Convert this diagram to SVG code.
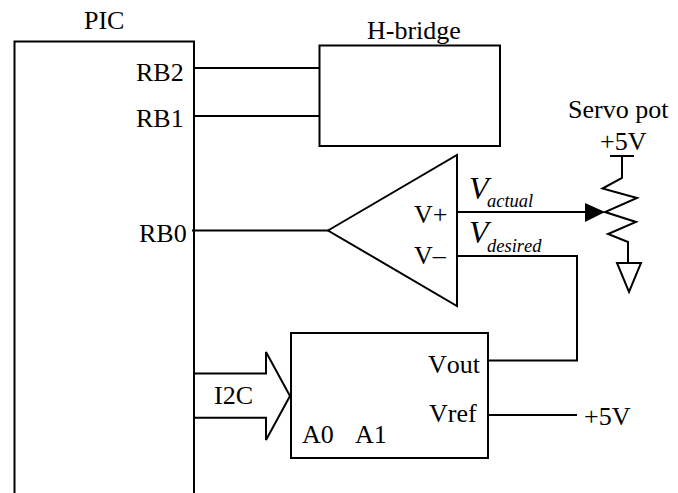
<svg xmlns="http://www.w3.org/2000/svg" width="678" height="493" viewBox="0 0 678 493">
<style>
.l{fill:none;stroke:#000;stroke-width:2}
text{font-family:"Liberation Serif","Times New Roman",serif;font-size:26px;fill:#000;font-kerning:none}
.v{font-size:32px;font-style:italic}
.s{font-size:18.500px;font-style:italic}
</style>
<rect width="678" height="493" fill="#fff"/>
<g id="connectors">
<path class="l" d="M194 68H319.500M194 116H319.500M192 230.500H328M457 212H590M457 256H577V360.500H488M488 415H577"/>
<polygon points="585,203 605,212 585,222" fill="#000"/>
</g>
<g id="pic">
<path class="l" d="M14.500 493V41.500H194V493"/>
<text x="84" y="29">PIC</text>
<text x="136" y="81">RB2</text>
<text x="136" y="127">RB1</text>
<text x="139" y="242">RB0</text>
</g>
<g id="h-bridge">
<rect class="l" x="319.500" y="45.500" width="180.500" height="100.500"/>
<text x="367" y="39">H-bridge</text>
</g>
<g id="comparator">
<polygon class="l" points="328,230.500 457,155 457,306"/>
<text x="414" y="223">V+</text>
<text x="414" y="264">V–</text>
<text class="v" x="469" y="199">V</text>
<text class="s" x="487" y="207">actual</text>
<text class="v" x="469" y="243">V</text>
<text class="s" x="487" y="252">desired</text>
</g>
<g id="dac">
<rect class="l" x="291" y="333" width="197" height="125"/>
<text x="428" y="373">Vout</text>
<text x="429" y="422">Vref</text>
<text x="302" y="443">A0</text>
<text x="355" y="443">A1</text>
</g>
<g id="i2c">
<path class="l" d="M194 373.500H266V352L290 396L266 440V417.700H194"/>
<text x="214" y="404">I2C</text>
</g>
<g id="servo-pot">
<path class="l" d="M610 156H634M622 156V178L602.500 188.500L637 198L605 212L636 222L608 234L628 242V263"/>
<polygon class="l" points="617,263 641,263 629,292"/>
<text x="568" y="118">Servo pot</text>
<text x="600" y="150">+5V</text>
</g>
<g id="vref-supply">
<text x="584" y="425">+5V</text>
</g>
</svg>
